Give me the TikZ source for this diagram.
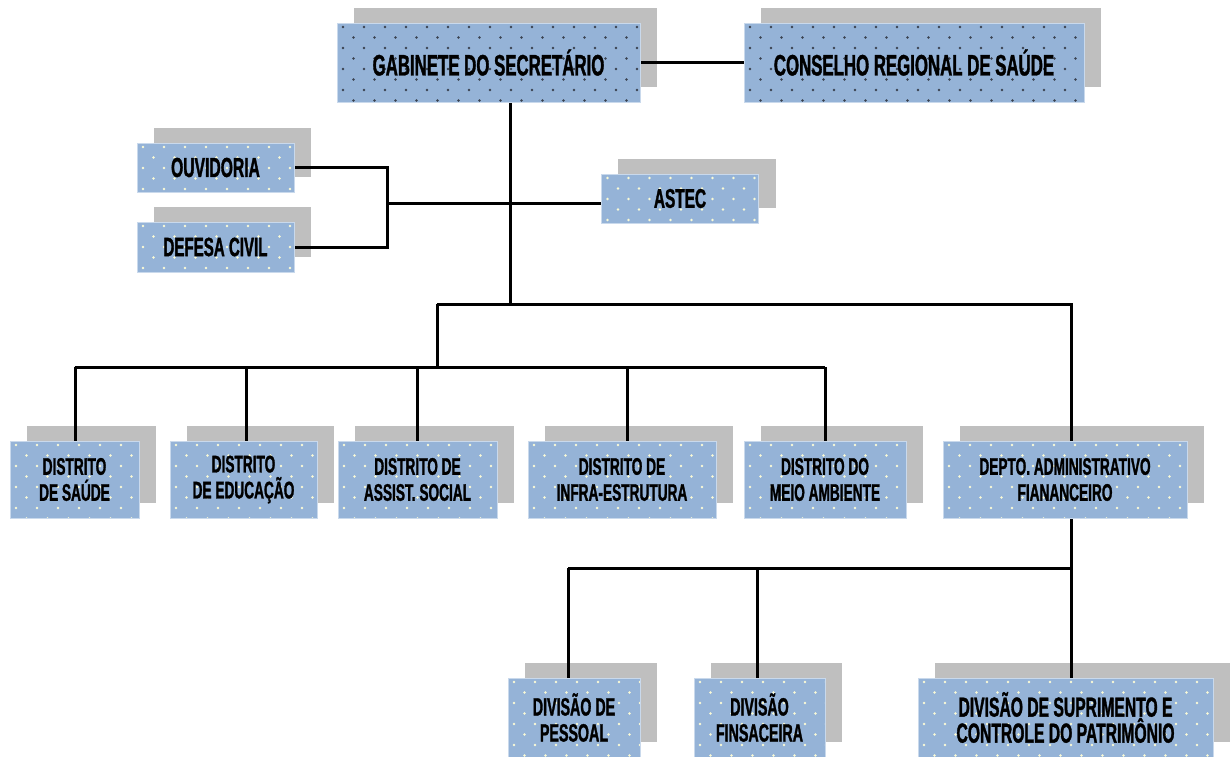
\documentclass[tikz,border=0pt]{standalone}
\usepackage{fontspec}
\newfontfamily\agency[FakeStretch=0.57,FakeBold=1.2]{Liberation Sans}
\definecolor{boxblue}{HTML}{95B3D7}
\definecolor{boxedge}{HTML}{C9D9EC}
\definecolor{shadowgray}{HTML}{BFBFBF}
\definecolor{lightdot}{HTML}{FAFAD6}
\definecolor{darkdot}{HTML}{3A4250}
\pgfdeclarelayer{bg}
\pgfdeclarelayer{mid}
\pgfsetlayers{bg,mid,main}
\tikzset{
  dotcolor/.store in=\dotcol, dotcolor=lightdot,
  orgbox/.style={fill=boxblue, draw=boxedge, line width=0.8pt, inner sep=0pt, align=center, text=black,
    font=\agency\bfseries,
    path picture={
      \foreach \r in {0,...,7}{
        \pgfmathsetmacro\off{mod(\r,2)*10.5}
        \foreach \c in {0,...,16}{
          \fill[\dotcol] ([xshift={\off pt+\c*21pt+6pt}, yshift={-\r*10.5pt-4pt}]path picture bounding box.north west) circle (1.3pt);
        }
      }
    }},
  conn/.style={line width=3pt, black}
}
\begin{document}
\begin{tikzpicture}[x=1pt,y=-1pt]
\useasboundingbox (0,0) rectangle (1232,756);
% nodes
\node[orgbox, dotcolor=darkdot, minimum width=303pt, minimum height=79pt, font=\agency\bfseries\fontsize{29.5}{32}\selectfont] (gab) at (488.5,62.5) {GABINETE DO SECRETÁRIO};
\node[orgbox, dotcolor=darkdot, minimum width=340pt, minimum height=79pt, font=\agency\bfseries\fontsize{29.5}{32}\selectfont] (cons) at (914,62.5) {CONSELHO REGIONAL DE SAÚDE};
\node[orgbox, minimum width=157pt, minimum height=49pt, font=\agency\bfseries\fontsize{27.5}{30}\selectfont] (ouv) at (215.5,167.5) {OUVIDORIA};
\node[orgbox, minimum width=157pt, minimum height=50pt, font=\agency\bfseries\fontsize{26.5}{30}\selectfont] (def) at (215.5,247) {DEFESA CIVIL};
\node[orgbox, minimum width=157pt, minimum height=49pt, font=\agency\bfseries\fontsize{27}{30}\selectfont] (astec) at (680,198.5) {ASTEC};
\tikzset{low/.style={orgbox, minimum height=77pt, font=\agency\bfseries\fontsize{24}{26}\selectfont}}
\node[low, minimum width=129pt] (d1) at (74.5,479.5) {DISTRITO\\DE SAÚDE};
\node[low, minimum width=147pt] (d2) at (243.5,479.5) {DISTRITO\\DE EDUCAÇÃO};
\node[low, minimum width=159pt] (d3) at (417.5,479.5) {DISTRITO DE\\ASSIST. SOCIAL};
\node[low, minimum width=188pt] (d4) at (622,479.5) {DISTRITO DE\\INFRA-ESTRUTURA};
\node[low, minimum width=162pt] (d5) at (825,479.5) {DISTRITO DO\\MEIO AMBIENTE};
\node[low, minimum width=244pt] (d6) at (1065,479.5) {DEPTO. ADMINISTRATIVO\\FIANANCEIRO};
\tikzset{div/.style={orgbox, minimum height=79pt, font=\agency\bfseries\fontsize{25}{26}\selectfont}}
\node[div, minimum width=132pt] (p1) at (574,717.5) {DIVISÃO DE\\PESSOAL};
\node[div, minimum width=131pt] (p2) at (759.5,717.5) {DIVISÃO\\FINSACEIRA};
\node[div, minimum width=295pt, font=\agency\bfseries\fontsize{27.5}{26}\selectfont] (p3) at (1065.5,717.5) {DIVISÃO DE SUPRIMENTO E\\CONTROLE DO PATRIMÔNIO};
% shadows
\begin{pgfonlayer}{bg}
\foreach \n in {gab,cons,ouv,def,astec,d1,d2,d3,d4,d5,d6,p1,p2,p3}{
  \fill[shadowgray] ([shift={(17,-15)}]\n.south west) rectangle ([shift={(17,-15)}]\n.north east);
}
\end{pgfonlayer}
% connectors
\begin{pgfonlayer}{mid}
\coordinate (t1) at (510,304);
\coordinate (t2) at (1071,304);
\coordinate (j1) at (437,304);
\coordinate (j2) at (437,367);
\coordinate (br) at (387,203);
\coordinate (bus2) at (1071,568);
\coordinate (b2l) at (568,568);
\draw[conn] (gab.east) -- (cons.west);
\draw[conn] (gab.south -| t1) -- (t1);
\draw[conn] (ouv.east) -| (br) |- (def.east);
\draw[conn] (br) -- (br -| astec.west);
\draw[conn] (j1) -- (t2) -- (t2 |- d6.north);
\draw[conn] (j1) -- (j2);
\foreach \n/\x in {d1/75,d2/246,d3/417,d4/627,d5/825}{
  \path (\x,367) coordinate (drop);
  \draw[conn] (drop |- \n.north) -- (drop);
}
\draw[conn] (d1.north |- j2) -- (d5.north |- j2);
\draw[conn] (bus2 |- d6.south) -- (bus2 |- p3.north);
\foreach \n/\x in {p1/568,p2/757}{
  \path (\x,568) coordinate (drop);
  \draw[conn] (drop |- \n.north) -- (drop);
}
\draw[conn] (b2l) -- (bus2);
\end{pgfonlayer}
\end{tikzpicture}
\end{document}
